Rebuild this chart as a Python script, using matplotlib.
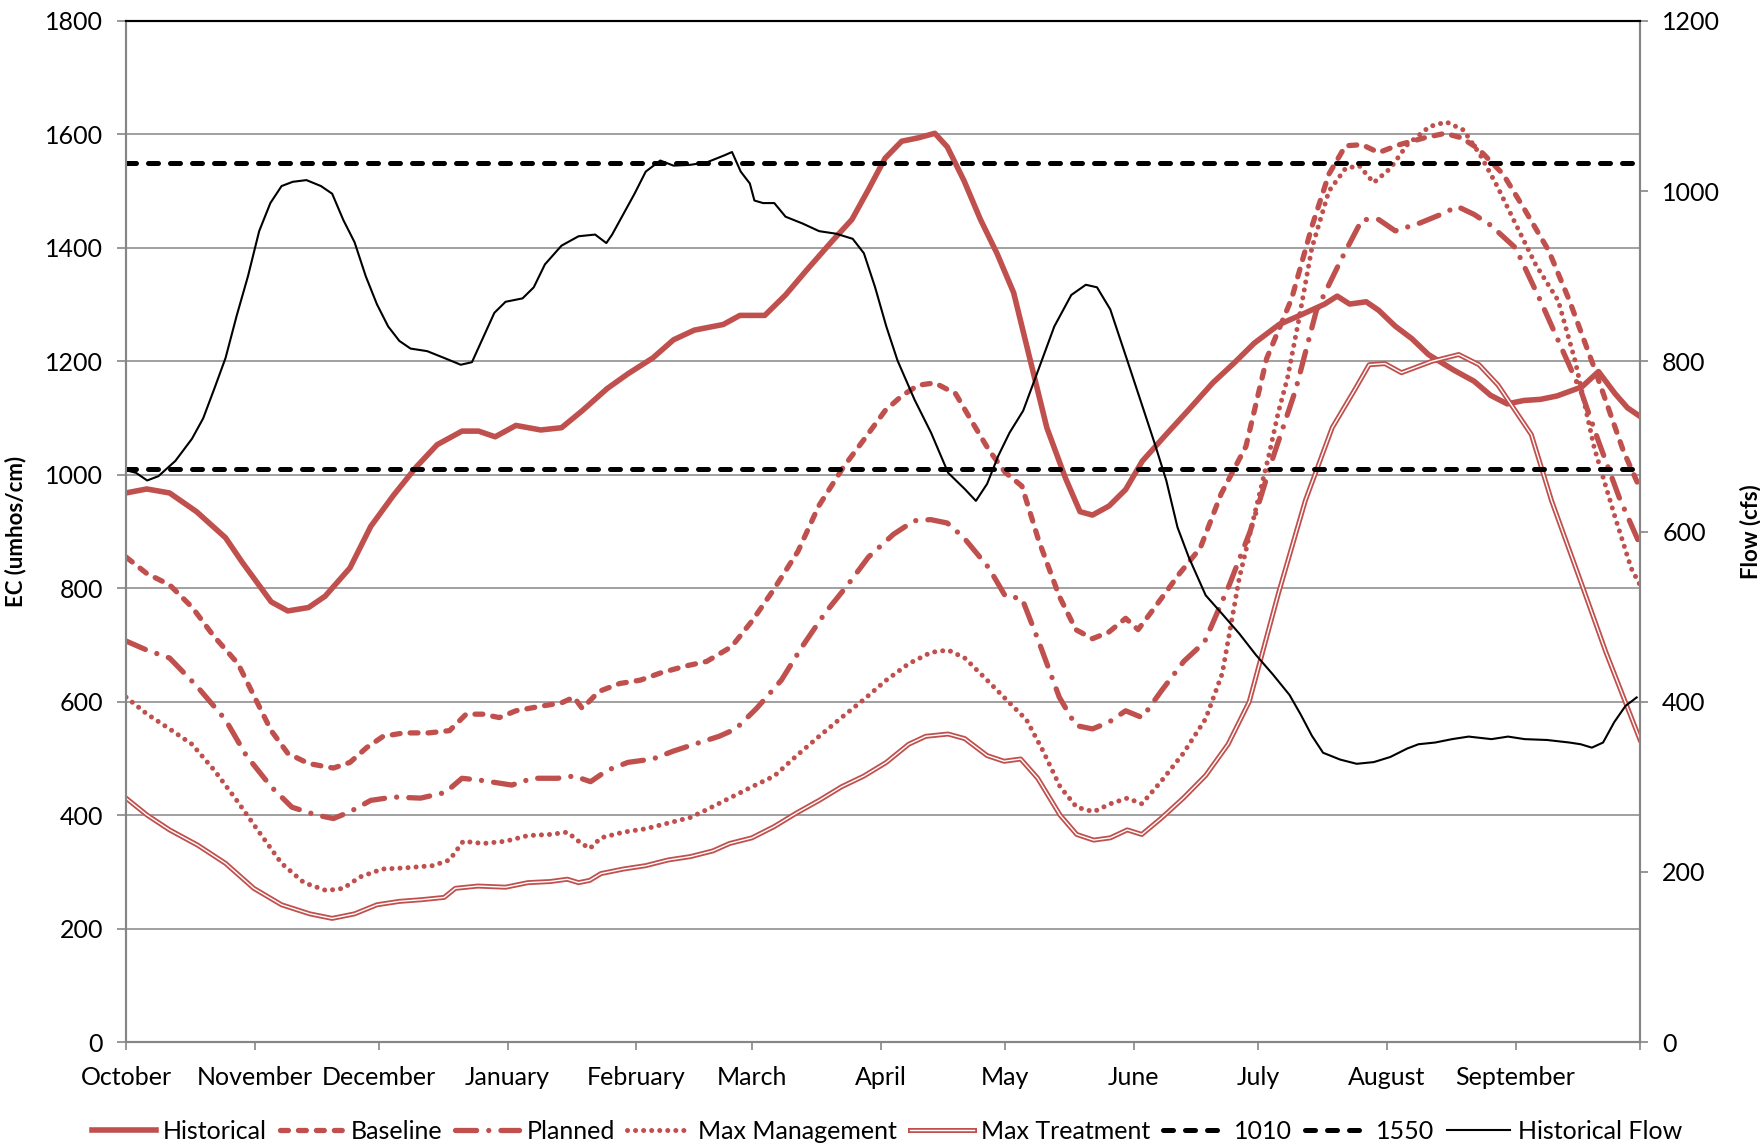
import matplotlib.pyplot as plt
import matplotlib.patheffects as pe

RED = '#C0504D'
GRID = '#868686'

plt.rcParams['font.family'] = ['Lato', 'DejaVu Sans']

# water year, day 0 = 1 October
months = ['October', 'November', 'December', 'January', 'February', 'March',
          'April', 'May', 'June', 'July', 'August', 'September']
month_start = [0, 31, 61, 92, 123, 151, 182, 212, 243, 273, 304, 335, 365]

# EC (umhos/cm)
hist_day = [0, 5, 10.5, 17, 24, 28, 35, 39, 44, 48, 54, 59, 64.5, 70, 75, 81, 85, 89, 94, 100,
            105, 110, 116, 121, 127, 132, 137, 144, 148, 154, 159, 164, 170, 175, 179, 183, 187, 191, 195, 198,
            202, 206, 210, 214, 218, 222, 226.5, 230, 233, 237, 241, 245, 251, 256, 262, 267, 272, 278, 283, 289,
            292, 295, 299, 302, 306, 310, 314, 320, 325, 329, 333, 337, 341, 345, 351, 355, 359, 362, 365]
hist_ec = [968, 975, 968, 935, 889, 846, 776, 760, 766, 786, 836, 909, 964, 1014, 1053, 1077, 1077, 1067, 1087, 1079,
           1083, 1113, 1152, 1178, 1206, 1238, 1255, 1265, 1281, 1281, 1317, 1360, 1410, 1450, 1503, 1558, 1588, 1594, 1602, 1578,
           1519, 1450, 1390, 1321, 1202, 1083, 994, 935, 929, 945, 974, 1024, 1073, 1113, 1162, 1196, 1232, 1265, 1281, 1301,
           1315, 1301, 1305, 1290, 1262, 1240, 1212, 1185, 1165, 1140, 1125, 1131, 1133, 1139, 1155, 1182, 1143, 1118, 1103]

base_day = [0, 5, 10.5, 16, 21, 27, 31, 35, 39, 44, 50, 54, 58, 62, 67, 73, 78, 82, 86, 90,
            94, 100, 105, 108, 110, 114, 119, 124, 129, 135, 140, 146, 151, 156, 162, 167, 173, 178, 183, 187,
            191, 195, 200, 204, 208, 212, 216, 220, 225, 229, 233, 237, 241, 244, 248, 254, 259, 264, 270, 275,
            281, 286, 290, 294, 298, 302, 307, 313, 318, 322, 326, 332, 337, 343, 348, 354, 361, 365]
base_ec = [855, 826, 806, 766, 717, 667, 608, 549, 509, 491, 483, 493, 519, 539, 545, 545, 549, 578, 578, 572,
           584, 592, 598, 608, 588, 618, 632, 638, 651, 663, 671, 697, 743, 796, 865, 945, 1014, 1063, 1113, 1139,
           1158, 1162, 1143, 1093, 1044, 1004, 980, 885, 786, 727, 711, 723, 747, 727, 766, 826, 871, 966, 1050, 1205,
           1310, 1440, 1530, 1580, 1582, 1568, 1582, 1594, 1602, 1594, 1575, 1530, 1470, 1395, 1307, 1188, 1042, 976]

plan_day = [0, 5, 10.5, 17, 24, 29, 35, 40, 46, 50, 54, 59, 64.5, 71, 77, 81, 86, 93, 98, 104,
            108, 112, 116, 121, 127, 132, 137, 143, 147, 152, 158, 163, 168.5, 174, 179, 185, 190, 194, 198, 202,
            208, 212, 216, 220, 225, 229, 233, 237, 241, 245, 249.5, 255, 260, 266, 271, 276.5, 282, 287, 293, 298,
            302, 306, 312, 317, 321, 325, 329, 335, 341, 351, 355, 360, 365]
plan_ec = [707, 691, 677, 628, 568, 505, 450, 414, 400, 394, 406, 426, 432, 430, 440, 465, 461, 453, 465, 465,
           469, 459, 479, 493, 499, 513, 525, 539, 552, 588, 638, 697, 756, 806, 855, 895, 919, 921, 915, 889,
           836, 786, 782, 707, 608, 558, 552, 564, 584, 572, 618, 671, 705, 806, 900, 1030, 1150, 1290, 1380, 1450,
           1450, 1430, 1444, 1459, 1473, 1459, 1440, 1400, 1307, 1143, 1059, 960, 877]

mgmt_day = [0, 5.1, 10.5, 15.9, 21.3, 26.7, 32.1, 37.5, 42.9, 48.3, 52.4, 56.4, 61.8, 67.2, 74, 78, 81.3, 86.1, 91.5, 96.9,
            102.3, 106.4, 109.1, 111.8, 114.5, 119.9, 125.3, 130.7, 136.1, 140.1, 145.5, 150.9, 156.3, 161.7, 167.1, 172.5, 177.9, 183.3, 188.7, 194.1,
            198.2, 202.2, 207.6, 213, 217.1, 221.1, 225.2, 229.2, 233.3, 237.3, 241.4, 244.9, 249.5, 254.9, 260.3, 264.3, 268.4, 272.4, 275.4, 277.8,
            280, 282.7, 285.9, 290, 294, 297.3, 300.8, 304.8, 308.9, 314.3, 318.3, 322.4, 326.4, 330.5, 334.5, 339.9, 345.3, 349.4, 354, 358.8,
            362.9, 365]
mgmt_ec = [608, 578, 552, 525, 479, 426, 370, 315, 281, 267, 271, 291, 305, 307, 311, 321, 354, 350, 354, 364,
           366, 370, 354, 341, 360, 370, 376, 386, 396, 410, 430, 450, 469, 505, 539, 572, 604, 638, 667, 687,
           691, 677, 638, 598, 568, 513, 450, 414, 406, 420, 430, 420, 459, 509, 570, 650, 818, 940, 1030, 1110,
           1170, 1271, 1400, 1500, 1540, 1545, 1515, 1540, 1582, 1614, 1622, 1608, 1565, 1510, 1450, 1370, 1307, 1200, 1047, 930,
           835, 806]

treat_day = [0, 5.1, 10.5, 17.3, 24, 30.8, 37.5, 44.3, 49.7, 55.1, 60.5, 65.9, 71.3, 76.7, 79.4, 84.8, 91.5, 96.9, 102.3, 106.4,
             109.1, 111.8, 114.5, 119.9, 125.3, 130.7, 136.1, 141.5, 145.5, 150.9, 156.3, 161.7, 167.1, 172.5, 177.9, 183.3, 188.7, 192.8, 198.2, 202.2,
             207.6, 211.7, 215.7, 219.8, 225.2, 229.2, 233.3, 237.3, 241.4, 244.9, 249.5, 254.9, 260.3, 265.7, 270.8, 277.8, 284.3, 290.8, 296.4, 299.7,
             303.5, 307.5, 314.8, 321.3, 326.2, 330.8, 338.8, 343.7, 351, 356.7, 365]
treat_ec = [430, 400, 374, 347, 315, 271, 242, 226, 218, 226, 242, 248, 251, 255, 271, 275, 273, 281, 283, 287,
            281, 285, 297, 305, 311, 321, 327, 337, 350, 360, 380, 404, 426, 450, 469, 493, 525, 539, 543, 535,
            505, 495, 499, 465, 400, 366, 356, 360, 374, 366, 394, 430, 470, 525, 600, 790, 954, 1083, 1152, 1194,
            1196, 1180, 1200, 1212, 1194, 1158, 1071, 954, 806, 689, 533]

thresholds = [1010, 1550]

# Historical flow (cfs), right axis
flow_day = [0, 2.4, 5.1, 7.8, 11.9, 15.9, 18.6, 21.3, 24, 26.7, 29.4, 32.1, 34.8, 37.5, 40.2, 43.5, 47, 49.7, 52.4, 55.1,
            57.8, 60.5, 63.2, 65.9, 68.6, 72.6, 76.7, 80.7, 83.4, 86.1, 88.8, 91.5, 95.6, 98.3, 101, 105, 109.1, 113.1, 115.8, 117.2,
            119.9, 122.6, 125.3, 128.8, 132, 136.1, 140.1, 144.2, 146.1, 148.2, 150.4, 151.5, 153.6, 156.3, 159, 163.1, 167.1, 171.2, 175.2, 177.9,
            180.6, 183.3, 186, 190.1, 194.1, 198.2, 202.2, 204.9, 207.6, 210.3, 213, 216.3, 219.8, 223.8, 227.9, 231.4, 234.1, 237.3, 241.4, 245.4,
            248.1, 250.8, 253.5, 256.2, 260.3, 264.3, 268.4, 272.4, 276.5, 280.5, 283.2, 285.9, 288.6, 292.7, 296.7, 300.8, 304.8, 308.9, 311.6, 315.6,
            319.7, 323.7, 329.2, 333.2, 337.2, 342.6, 348, 350.7, 353.4, 356.1, 358.8, 361.5, 364.2]
flow_cfs = [672, 669, 660, 665, 683, 709, 733, 768, 804, 854, 900, 953, 986, 1006, 1011, 1013, 1006, 997, 966, 940,
            900, 867, 841, 824, 815, 812, 804, 796, 799, 828, 857, 870, 874, 887, 914, 936, 947, 949, 939, 949,
            973, 997, 1023, 1036, 1030, 1031, 1034, 1042, 1046, 1023, 1009, 989, 986, 986, 970, 962, 953, 950, 944, 927,
            887, 841, 801, 755, 716, 669, 650, 636, 656, 689, 716, 742, 788, 841, 878, 890, 887, 861, 801, 742,
            702, 660, 605, 570, 525, 503, 480, 455, 432, 408, 385, 360, 340, 332, 327, 329, 335, 345, 350, 352,
            356, 359, 356, 359, 356, 355, 352, 350, 346, 352, 376, 395, 405]

fig, ax = plt.subplots(figsize=(17.6, 11.47), dpi=100)
fig.subplots_adjust(left=0.0716, right=0.9318, top=0.9817, bottom=0.0915)

ax.plot(hist_day, hist_ec, color=RED, lw=4.0, solid_joinstyle='round', label='Historical')
ax.plot(base_day, base_ec, color=RED, lw=3.8, dashes=(1.5, 1.9), dash_capstyle='round', label='Baseline')
ax.plot(plan_day, plan_ec, color=RED, lw=3.8, dashes=(4, 2.3, 0.01, 2.3), dash_capstyle='round', label='Planned')
ax.plot(mgmt_day, mgmt_ec, color=RED, lw=3.6, dashes=(0.01, 1.6), dash_capstyle='round', label='Max Management')
ax.plot(treat_day, treat_ec, color='white', lw=1.0, label='Max Treatment',
        path_effects=[pe.Stroke(linewidth=3.6, foreground=RED), pe.Normal()])
for t in thresholds:
    ax.axhline(t, color='black', lw=3.6, dashes=(2.0, 2.4), dash_capstyle='round', label=str(t))

ax2 = ax.twinx()
ax2.plot(flow_day, flow_cfs, color='black', lw=1.5, label='Historical Flow')

ax.set_xlim(0, 365)
ax.set_ylim(0, 1800)
ax2.set_ylim(0, 1200)
ax.set_yticks(range(0, 1801, 200))
ax2.set_yticks(range(0, 1201, 200))
ax.set_xticks(month_start)
ax.set_xticklabels(months + [''])

ax.yaxis.grid(True, color=GRID, lw=1.1)
ax.set_axisbelow(True)

for a in (ax, ax2):
    for s in ('left', 'right', 'bottom'):
        a.spines[s].set_color(GRID)
        a.spines[s].set_linewidth(1.5)
    a.spines['top'].set_color('black')
    a.spines['top'].set_linewidth(1.5)

ax.tick_params(axis='y', direction='out', length=6.5, width=1.2, color=GRID, labelsize=18, pad=10)
ax.tick_params(axis='x', direction='out', length=6, width=1.2, color=GRID, labelsize=18, pad=11)
ax2.tick_params(axis='y', direction='out', length=6, width=1.2, color=GRID, labelsize=18, pad=10)

ax.set_ylabel('EC (umhos/cm)', fontsize=16, fontweight='bold')
ax2.set_ylabel('Flow (cfs)', fontsize=16, fontweight='bold', rotation=90)
ax.yaxis.set_label_coords(-0.066, 0.5)
ax2.yaxis.set_label_coords(1.066, 0.5)

h1, l1 = ax.get_legend_handles_labels()
h2, l2 = ax2.get_legend_handles_labels()
fig.legend(h1 + h2, l1 + l2, loc='lower center', bbox_to_anchor=(0.504, -0.016), ncol=8,
           frameon=False, fontsize=18, handlelength=2.55, handletextpad=0.3, columnspacing=0.5)

fig.savefig('out.png', dpi=100)
